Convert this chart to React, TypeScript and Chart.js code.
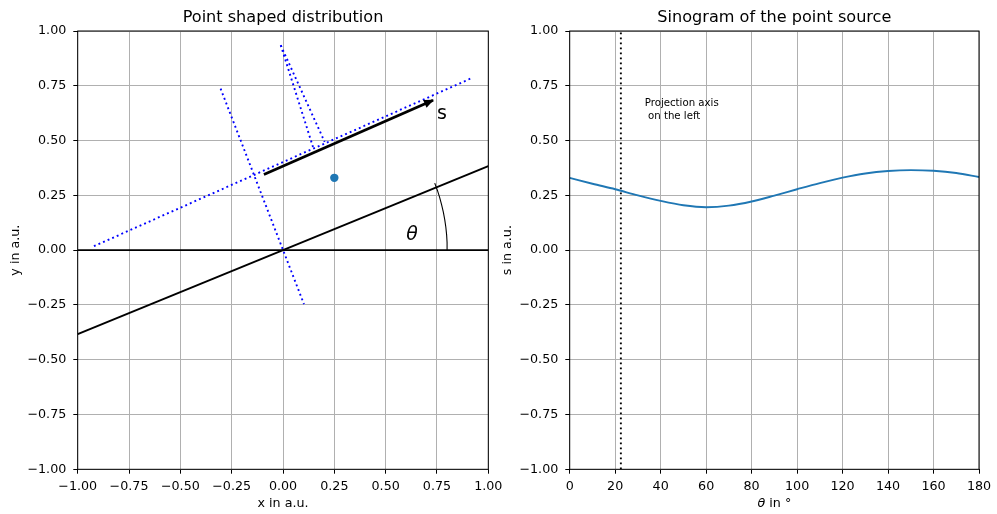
import React, { useEffect, useRef } from 'react';
import { Chart, registerables } from 'chart.js';

Chart.register(...registerables);

const FONT = "'DejaVu Sans', sans-serif";

// ---- tick values ----
const posTicks = [-1, -0.75, -0.5, -0.25, 0, 0.25, 0.5, 0.75, 1];
const thetaTicks = [0, 20, 40, 60, 80, 100, 120, 140, 160, 180];

// ---- left panel: geometry (data coordinates) ----
const sourcePoint: number[][] = [[0.25, 0.33]];
const xAxisLine: number[][] = [[-1, 0], [1, 0]];
const rotatedAxis: number[][] = [[-1, -0.383], [1, 0.383]];
const angleArc: number[][] = [
  [0.8, 0], [0.7992, 0.0349], [0.797, 0.0697], [0.7932, 0.1044], [0.7878, 0.1389],
  [0.781, 0.1732], [0.7727, 0.2071], [0.763, 0.2406], [0.7518, 0.2736], [0.7391, 0.3061],
];
const sArrow: number[][] = [[-0.093, 0.345], [0.731, 0.684]];
const projAxisDotted: number[][] = [[-0.921, 0.018], [0.921, 0.786]];
const perpDotted: number[][] = [[-0.304, 0.737], [0.102, -0.246]];
const rayDotted1: number[][] = [[-0.011, 0.935], [0.146, 0.471]];
const rayDotted2: number[][] = [[-0.011, 0.935], [0.203, 0.494]];

// ---- right panel: sinogram ----
const thetaDeg = [0, 10, 20, 30, 40, 50, 60, 70, 80, 90, 100, 110, 120, 130, 140, 150, 160, 170, 180];
const sinoS = [0.330, 0.303, 0.278, 0.250, 0.225, 0.205, 0.196, 0.203, 0.222, 0.249, 0.278, 0.306, 0.331, 0.350, 0.361, 0.365, 0.362, 0.352, 0.334];
const thetaMarker: number[][] = [[22.5, -1], [22.5, 1]];

const toXY = (pairs: number[][]) => pairs.map(([x, y]) => ({ x, y }));
const fmt2 = (v: number) => (v < 0 ? '\u2212' : '') + Math.abs(v).toFixed(2);

const TICK_FONT = { family: FONT, size: 12.7 };
const DOT = [1.9, 3.1];

const lineDS = (pairs: number[][], color: string, width: number, dash: number[] = [], order = 1) => ({
  data: toXY(pairs),
  showLine: true,
  borderColor: color,
  backgroundColor: color,
  borderWidth: width,
  borderDash: dash,
  pointRadius: 0,
  pointHoverRadius: 0,
  fill: false,
  tension: 0,
  order,
});

function makeScale(tickVals: number[], fmt: (v: number) => string, min: number, max: number, isX: boolean, title: string | null) {
  return {
    type: 'linear' as const,
    min,
    max,
    afterBuildTicks: (s: any) => {
      s.ticks = tickVals.map((v) => ({ value: v }));
    },
    afterFit: (s: any) => {
      if (isX) s.height = 44.7;
      else s.width = 77.7;
    },
    ticks: {
      callback: (v: any) => fmt(Number(v)),
      color: '#000',
      font: TICK_FONT,
      padding: isX ? 5 : 7,
      maxRotation: 0,
      autoSkip: false,
    },
    grid: { color: '#b0b0b0', lineWidth: 1, tickColor: '#000', tickLength: 4.4, drawTicks: true },
    border: { display: false },
    title: title
      ? {
          display: true,
          text: title,
          color: '#000',
          font: TICK_FONT,
          padding: isX ? { top: 0, bottom: 3.1 } : { top: 8, bottom: 0 },
        }
      : { display: false },
  };
}

const spines = {
  id: 'spines',
  afterDatasetsDraw(chart: any) {
    const { ctx, chartArea } = chart;
    const { left, top, right, bottom } = chartArea;
    ctx.save();
    ctx.strokeStyle = '#000';
    ctx.lineWidth = 1;
    ctx.strokeRect(left, top, right - left, bottom - top);
    ctx.restore();
  },
};

const arrowHead = {
  id: 'arrowHead',
  afterDatasetsDraw(chart: any) {
    const { ctx } = chart;
    chart.data.datasets.forEach((ds: any, i: number) => {
      if (!ds.arrowHead) return;
      const pts = chart.getDatasetMeta(i).data;
      if (pts.length < 2) return;
      const a = pts[pts.length - 2];
      const b = pts[pts.length - 1];
      const dx = b.x - a.x;
      const dy = b.y - a.y;
      const len = Math.hypot(dx, dy);
      const ux = dx / len;
      const uy = dy / len;
      const L = 9;
      const W = 4.2;
      const bx = b.x - ux * L;
      const by = b.y - uy * L;
      ctx.save();
      ctx.fillStyle = '#000';
      ctx.beginPath();
      ctx.moveTo(b.x + ux * 1, b.y + uy * 1);
      ctx.lineTo(bx - uy * W, by + ux * W);
      ctx.lineTo(bx + uy * W, by - ux * W);
      ctx.closePath();
      ctx.fill();
      ctx.restore();
    });
  },
};

const annotLeft = {
  id: 'annotLeft',
  afterDatasetsDraw(chart: any) {
    const { ctx, scales } = chart;
    const px = (v: number) => scales.x.getPixelForValue(v);
    const py = (v: number) => scales.y.getPixelForValue(v);
    ctx.save();
    ctx.fillStyle = '#000';
    ctx.textAlign = 'left';
    ctx.textBaseline = 'alphabetic';
    ctx.font = `19px ${FONT}`;
    ctx.fillText('s', px(0.75), py(0.6));
    ctx.font = `italic 19px ${FONT}`;
    ctx.fillText('\u03b8', px(0.6), py(0.045));
    ctx.restore();
  },
};

const annotRight = {
  id: 'annotRight',
  afterDatasetsDraw(chart: any) {
    const { ctx, scales, chartArea } = chart;
    const px = (v: number) => scales.x.getPixelForValue(v);
    const py = (v: number) => scales.y.getPixelForValue(v);
    ctx.save();
    ctx.fillStyle = '#000';
    ctx.textAlign = 'left';
    ctx.textBaseline = 'alphabetic';
    ctx.font = `10.2px ${FONT}`;
    const bx = px(33);
    const by = py(0.6);
    ctx.fillText('Projection axis', bx, by - 12.2);
    ctx.fillText(' on the left', bx, by);
    // x-axis title with italic theta
    const cx = (chartArea.left + chartArea.right) / 2;
    const ty = 503.3;
    ctx.textBaseline = 'middle';
    ctx.font = `italic 12.7px ${FONT}`;
    const w1 = ctx.measureText('\u03b8').width;
    ctx.font = `12.7px ${FONT}`;
    const w2 = ctx.measureText(' in \u00b0').width;
    const sx = cx - (w1 + w2) / 2;
    ctx.font = `italic 12.7px ${FONT}`;
    ctx.fillText('\u03b8', sx, ty);
    ctx.font = `12.7px ${FONT}`;
    ctx.fillText(' in \u00b0', sx + w1, ty);
    ctx.restore();
  },
};

const titleOpts = (text: string) => ({
  display: true,
  fullSize: false,
  text,
  color: '#000',
  font: { family: FONT, size: 16.1, weight: 'normal' as const },
  padding: { top: 8.5, bottom: 3.18 },
});

export default function App() {
  const refA = useRef<HTMLCanvasElement>(null);
  const refB = useRef<HTMLCanvasElement>(null);

  useEffect(() => {
    const arrowDS: any = lineDS(sArrow, '#000', 2.8, [], 1);
    arrowDS.arrowHead = true;

    const chartA = new Chart(refA.current as HTMLCanvasElement, {
      type: 'scatter',
      data: {
        datasets: [
          {
            data: toXY(sourcePoint),
            showLine: false,
            pointRadius: 4.2,
            pointHoverRadius: 4.2,
            backgroundColor: '#1f77b4',
            borderWidth: 0,
            order: 0,
          } as any,
          lineDS(xAxisLine, '#000', 1.9, [], 2),
          lineDS(rotatedAxis, '#000', 1.9, [], 2),
          lineDS(angleArc, '#000', 1.1, [], 2),
          arrowDS,
          lineDS(projAxisDotted, '#0000ff', 1.9, DOT, 3),
          lineDS(perpDotted, '#0000ff', 1.9, DOT, 3),
          lineDS(rayDotted1, '#0000ff', 1.9, DOT, 3),
          lineDS(rayDotted2, '#0000ff', 1.9, DOT, 3),
        ],
      },
      options: {
        animation: false,
        responsive: false,
        events: [],
        layout: { padding: { left: 0, right: 36.7, top: 0, bottom: 0 } },
        plugins: {
          legend: { display: false },
          tooltip: { enabled: false },
          title: titleOpts('Point shaped distribution'),
        },
        scales: {
          x: makeScale(posTicks, fmt2, -1, 1, true, 'x in a.u.'),
          y: makeScale(posTicks, fmt2, -1, 1, false, 'y in a.u.'),
        } as any,
      },
      plugins: [spines, arrowHead, annotLeft],
    });

    const chartB = new Chart(refB.current as HTMLCanvasElement, {
      type: 'scatter',
      data: {
        datasets: [
          {
            data: thetaDeg.map((t, i) => ({ x: t, y: sinoS[i] })),
            showLine: true,
            borderColor: '#1f77b4',
            backgroundColor: '#1f77b4',
            borderWidth: 1.9,
            pointRadius: 0,
            pointHoverRadius: 0,
            cubicInterpolationMode: 'monotone',
            fill: false,
            order: 1,
          } as any,
          lineDS(thetaMarker, '#000', 1.9, DOT, 2),
        ],
      },
      options: {
        animation: false,
        responsive: false,
        events: [],
        layout: { padding: { left: 0, right: 18, top: 0, bottom: 0 } },
        plugins: {
          legend: { display: false },
          tooltip: { enabled: false },
          title: titleOpts('Sinogram of the point source'),
        },
        scales: {
          x: makeScale(thetaTicks, (v) => String(Math.round(v)), 0, 180, true, null),
          y: makeScale(posTicks, fmt2, -1, 1, false, 's in a.u.'),
        } as any,
      },
      plugins: [spines, annotRight],
    });

    return () => {
      chartA.destroy();
      chartB.destroy();
    };
  }, []);

  return (
    <div style={{ position: 'absolute', left: 0, top: 0, width: 997, height: 514, background: '#fff', overflow: 'hidden' }}>
      <canvas ref={refA} width={525} height={514} style={{ position: 'absolute', left: 0, top: 0, width: 525, height: 514 }} />
      <canvas ref={refB} width={505} height={514} style={{ position: 'absolute', left: 492, top: 0, width: 505, height: 514 }} />
    </div>
  );
}
